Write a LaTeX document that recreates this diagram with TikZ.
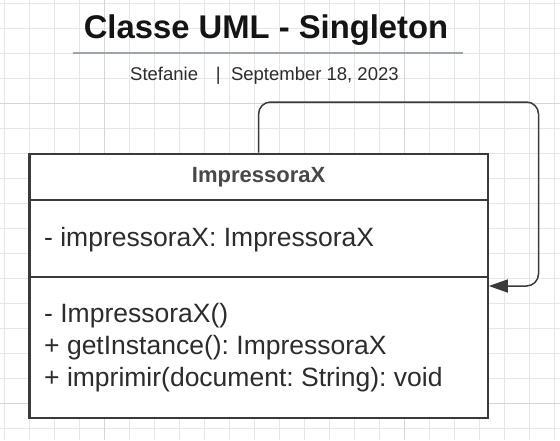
\documentclass[tikz,border=0pt]{standalone}
\usepackage{fontspec}
\setmainfont{Liberation Sans}
\usetikzlibrary{arrows.meta}
\frenchspacing

\definecolor{gridminor}{HTML}{E6E6E6}
\definecolor{gridmajor}{HTML}{D6D6D6}
\definecolor{ink}{HTML}{3A3A3A}
\definecolor{rulegray}{HTML}{9CA5AE}
\definecolor{headtext}{HTML}{484848}
\definecolor{bodytext}{HTML}{2C2C2C}

\begin{document}
\begin{tikzpicture}[x=1pt,y=-1pt,
  compartment/.style={draw=ink, line width=2.2pt, fill=white,
    minimum width=458.2pt, anchor=north west, inner sep=0pt, outer sep=0pt},
  member/.style={inner sep=0pt, anchor=base west, text=bodytext,
    font=\fontsize{26.5}{32}\selectfont},
  selfloop/.style={draw=ink, line width=1.5pt, rounded corners=12pt,
    -{Triangle[length=19pt,width=13pt]}}]

% canvas and grid paper
\fill[white] (0,0) rectangle (560,440);
\useasboundingbox (0,0) rectangle (560,440);
\foreach \x in {4,29,...,554} \draw[gridminor, line width=1pt] (\x,0) -- (\x,440);
\foreach \y in {3,28,...,428} \draw[gridminor, line width=1pt] (0,\y) -- (560,\y);
\foreach \x in {104,404} \draw[gridmajor, line width=1pt] (\x,0) -- (\x,440);
\foreach \y in {103,403} \draw[gridmajor, line width=1pt] (0,\y) -- (560,\y);

% heading
\node[font=\fontsize{32.8}{38}\selectfont\bfseries, text=black!92, anchor=base,
  inner sep=0pt] (title) at (266,38) {Classe UML - Singleton};
\draw[rulegray, line width=2.2pt] (73,53) -- (463,53);
\node[font=\fontsize{18.5}{22}\selectfont, text=bodytext, anchor=base west,
  inner sep=0pt] (author) at (130,80) {Stefanie};
\node[font=\fontsize{18.5}{22}\selectfont, text=bodytext, anchor=base,
  inner sep=0pt] (sep) at (218.4,80) {|};
\node[font=\fontsize{18.5}{22}\selectfont, text=bodytext, anchor=base west,
  inner sep=0pt] (date) at (230.8,80) {September 18, 2023};

% class box: name, attributes, operations
\node[compartment, minimum height=46.3pt] (head) at (29.5,153.7) {};
\node[compartment, minimum height=77pt] (attrs) at (29.5,200) {};
\node[compartment, minimum height=141.3pt] (ops) at (29.5,277) {};

\node[font=\fontsize{22}{26}\selectfont\bfseries, text=headtext, anchor=base,
  inner sep=0pt] (cname) at (258.6,182) {ImpressoraX};
\node[member] (attr1) at (44,246) {- impressoraX: ImpressoraX};
\node[member] (op1) at (44,322.5) {- ImpressoraX()};
\node[member] (op2) at (44,354.5) {+ getInstance(): ImpressoraX};
\node[member] (op3) at (44,386.5) {+ imprimir(document: String): void};

% self association
\coordinate (loopcorner) at (538.5,102);
\draw[selfloop] ([yshift=1.1pt]head.north) |- (loopcorner)
  |- ([xshift=1.1pt,yshift=-9pt]ops.north east);
\end{tikzpicture}
\end{document}
